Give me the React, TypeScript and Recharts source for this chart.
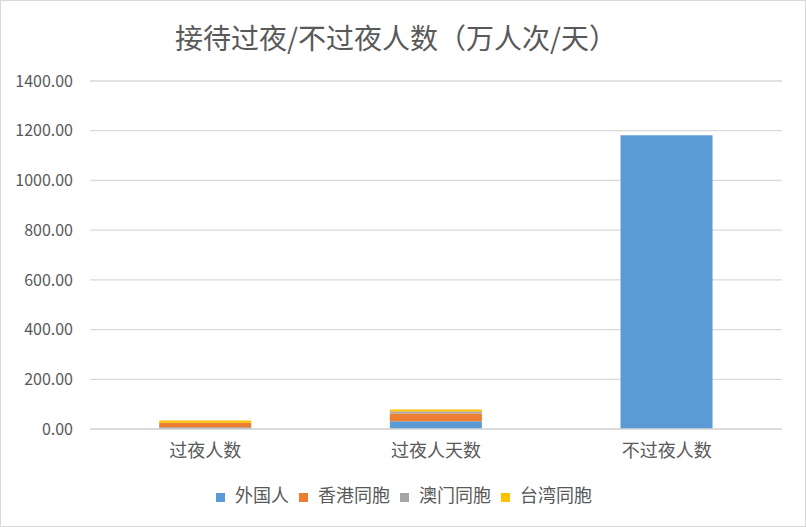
import { BarChart, Bar, XAxis, YAxis, CartesianGrid, Legend } from 'recharts';

const categories = ['过夜人数', '过夜人天数', '不过夜人数'];
const foreigners = [6, 31, 1182];
const hongKong = [18, 31, 0];
const macau = [1, 8, 0];
const taiwan = [9, 8, 0];
const yTicks = [0, 200, 400, 600, 800, 1000, 1200, 1400];
const seriesOrder = ['外国人', '香港同胞', '澳门同胞', '台湾同胞'];

const data = categories.map((name, i) => ({
  name,
  foreigners: foreigners[i],
  hongKong: hongKong[i],
  macau: macau[i],
  taiwan: taiwan[i],
}));

const font = "'Noto Sans CJK SC', 'Microsoft YaHei', sans-serif";

export default function App() {
  return (
    <div
      style={{
        position: 'absolute',
        top: 0,
        left: 0,
        width: 806,
        height: 527,
        background: '#fff',
        boxSizing: 'border-box',
        border: '1px solid #d9d9d9',
        fontFamily: font,
      }}
    >
      <div
        style={{
          position: 'absolute',
          top: 16,
          left: 0,
          width: 790,
          textAlign: 'center',
          fontSize: 28,
          color: '#595959',
          lineHeight: '40px',
        }}
      >
        接待过夜/不过夜人数（万人次/天）
      </div>
      <BarChart
        width={804}
        height={525}
        data={data}
        margin={{ top: 80, right: 23, left: 7, bottom: 15 }}
        barCategoryGap="30%"
      >
        <CartesianGrid vertical={false} stroke="#d9d9d9" strokeWidth={1.3} />
        <XAxis
          dataKey="name"
          axisLine={{ stroke: '#d9d9d9', strokeWidth: 1.3 }}
          tickLine={false}
          tick={{ fill: '#595959', fontSize: 18, fontFamily: font }}
          tickMargin={9}
          height={52}
        />
        <YAxis
          domain={[0, 1400]}
          ticks={yTicks}
          width={82}
          axisLine={false}
          tickLine={false}
          tickFormatter={(v: number) => v.toFixed(2)}
          tick={{ fill: '#595959', fontSize: 16, fontFamily: font }}
          tickMargin={11}
        />
        <Legend
          verticalAlign="bottom"
          height={30}
          iconType="square"
          iconSize={9}
          itemSorter={(item: any) => seriesOrder.indexOf(item.value)}
          wrapperStyle={{ left: 21, fontSize: 18, fontFamily: font, color: '#595959', whiteSpace: 'nowrap' }}
          formatter={(value: string) => (
            <span style={{ color: '#595959', marginLeft: 6, whiteSpace: 'nowrap' }}>{value}</span>
          )}
        />
        <Bar dataKey="foreigners" name="外国人" stackId="a" fill="#5b9bd5" isAnimationActive={false} />
        <Bar dataKey="hongKong" name="香港同胞" stackId="a" fill="#ed7d31" isAnimationActive={false} />
        <Bar dataKey="macau" name="澳门同胞" stackId="a" fill="#a5a5a5" isAnimationActive={false} />
        <Bar dataKey="taiwan" name="台湾同胞" stackId="a" fill="#ffc000" isAnimationActive={false} />
      </BarChart>
    </div>
  );
}
